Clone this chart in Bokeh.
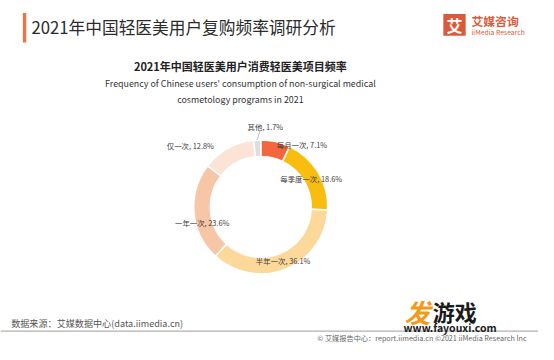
import math
from bokeh.plotting import figure
from bokeh.models import Range1d, ColumnDataSource
from bokeh.core.properties import value
from bokeh.embed import file_html
from bokeh.resources import INLINE

# ---- data ----
categories = ["每月一次", "每季度一次", "半年一次", "一年一次", "仅一次", "其他"]
shares = [7.1, 18.6, 36.1, 23.6, 12.8, 1.7]
colors = ["#F4663C", "#F9BD10", "#FDD89B", "#F7C6A6", "#FBE3D6", "#DEDEDE"]

title = "2021年中国轻医美用户复购频率调研分析"
chart_title = "2021年中国轻医美用户消费轻医美项目频率"
chart_sub1 = "Frequency of Chinese users' consumption of non-surgical medical"
chart_sub2 = "cosmetology programs in 2021"
source_note = "数据来源：艾媒数据中心(data.iimedia.cn)"
footer_note = "© 艾媒报告中心：report.iimedia.cn   ©2021   iiMedia Research  Inc"

FONT = "Noto Sans CJK SC"
W, H = 554, 360

def Y(y):  # layout y (top-down) -> data y
    return H - y

p = figure(width=538, height=344, output_backend="svg", toolbar_location=None,
           x_range=Range1d(0, W), y_range=Range1d(0, H),
           x_axis_type=None, y_axis_type=None,
           min_border=0, min_border_left=0, min_border_right=0,
           min_border_top=0, min_border_bottom=0)
p.grid.visible = False
p.outline_line_color = None
p.background_fill_color = "white"
p.border_fill_color = "white"

# ---- header ----
p.quad(left=[23], right=[26.5], top=[Y(13)], bottom=[Y(44)], fill_color="#EC7247", line_color=None)
p.text(x=[32], y=[Y(28)], text=[title], text_font=value(FONT), text_font_size="16.7px",
       text_color="#2b2b2b", text_baseline="middle", text_align="left")

# logo
p.quad(left=[456], right=[479], top=[Y(14)], bottom=[Y(37)], fill_color="#DA5A3A", line_color=None)
p.text(x=[467.5], y=[Y(25.5)], text=["艾"], text_font=value(FONT), text_font_size="16px",
       text_font_style="bold", text_color="white", text_align="center", text_baseline="middle")
p.text(x=[485], y=[Y(21)], text=["艾媒咨询"], text_font=value(FONT), text_font_size="11.8px",
       text_font_style="bold", text_color="#DA5A3A", text_align="left", text_baseline="middle")
p.text(x=[485], y=[Y(33)], text=["iiMedia Research"], text_font=value(FONT), text_font_size="6.8px",
       text_color="#DA5A3A", text_align="left", text_baseline="middle")

# ---- chart titles ----
cx = 247
p.text(x=[cx], y=[Y(69)], text=[chart_title], text_font=value(FONT), text_font_size="11px",
       text_font_style="bold", text_color="#222222", text_align="center", text_baseline="middle")
p.text(x=[cx, cx], y=[Y(87), Y(104)], text=[chart_sub1, chart_sub2], text_font=value(FONT),
       text_font_size="8.9px", text_color="#333333", text_align="center", text_baseline="middle")

# ---- donut ----
dx0, dy0 = 268, 216
r_out, r_in = 69, 52
total = sum(shares)
starts, ends, mids = [], [], []
acc = 0.0
for s in shares:
    a0 = math.pi / 2 - 2 * math.pi * acc / total
    acc += s
    a1 = math.pi / 2 - 2 * math.pi * acc / total
    starts.append(a0); ends.append(a1); mids.append((a0 + a1) / 2)

src = ColumnDataSource(dict(start=starts, end=ends, color=colors))
p.annular_wedge(x=dx0, y=Y(dy0), inner_radius=r_in, outer_radius=r_out,
                start_angle="start", end_angle="end", direction="clock",
                fill_color="color", line_color="white", line_width=1.5, source=src)

# labels: mid-ring position plus a per-label nudge (layout pixels)
nudges = [(29, -6), (0, 1), (0, 0), (0, 11), (-43, -11), (8, -24)]
r_mid = (r_in + r_out) / 2
lx, ly, lt = [], [], []
for cat, s, m, (nx, ny) in zip(categories, shares, mids, nudges):
    px = dx0 + r_mid * math.cos(m) + nx
    py = dy0 - r_mid * math.sin(m) + ny
    lx.append(px); ly.append(Y(py)); lt.append(f"{cat}, {s}%")
p.text(x=lx, y=ly, text=lt, text_font=value(FONT), text_font_size="7.4px",
       text_color="#404040", text_align="center", text_baseline="middle")

# leader line for the small slice
m = mids[-1]
ox = dx0 + (r_out + 1) * math.cos(m)
oy = dy0 - (r_out + 1) * math.sin(m)
p.segment(x0=[ox], y0=[Y(oy)], x1=[ox + 3], y1=[Y(oy - 10)], line_color="#A8B4C4", line_width=0.8)

# ---- footer ----
p.text(x=[11], y=[Y(338)], text=[source_note], text_font=value(FONT), text_font_size="9.1px",
       text_color="#555555", text_align="left", text_baseline="middle")
p.segment(x0=[0], y0=[Y(346)], x1=[W], y1=[Y(346)], line_color="#9E9E9E", line_width=1)
p.text(x=[550], y=[Y(353)], text=[footer_note], text_font=value(FONT), text_font_size="7.2px",
       text_color="#666666", text_align="right", text_baseline="middle")

# site watermark
p.text(x=[416], y=[Y(325)], text=["发"], text_font=value(FONT), text_font_size="26px",
       text_font_style="bold italic", text_color="#F39A1A", text_align="left", text_baseline="middle")
p.text(x=[445], y=[Y(325)], text=["游戏"], text_font=value(FONT), text_font_size="22px",
       text_font_style="bold", text_color="#1a1a1a", text_align="left", text_baseline="middle")
p.text(x=[415], y=[Y(342)], text=["www.fayouxi.com"], text_font=value(FONT), text_font_size="10.5px",
       text_font_style="bold", text_color="#1a1a1a", text_align="left", text_baseline="middle")

open("out.html", "w").write(file_html(p, INLINE))
